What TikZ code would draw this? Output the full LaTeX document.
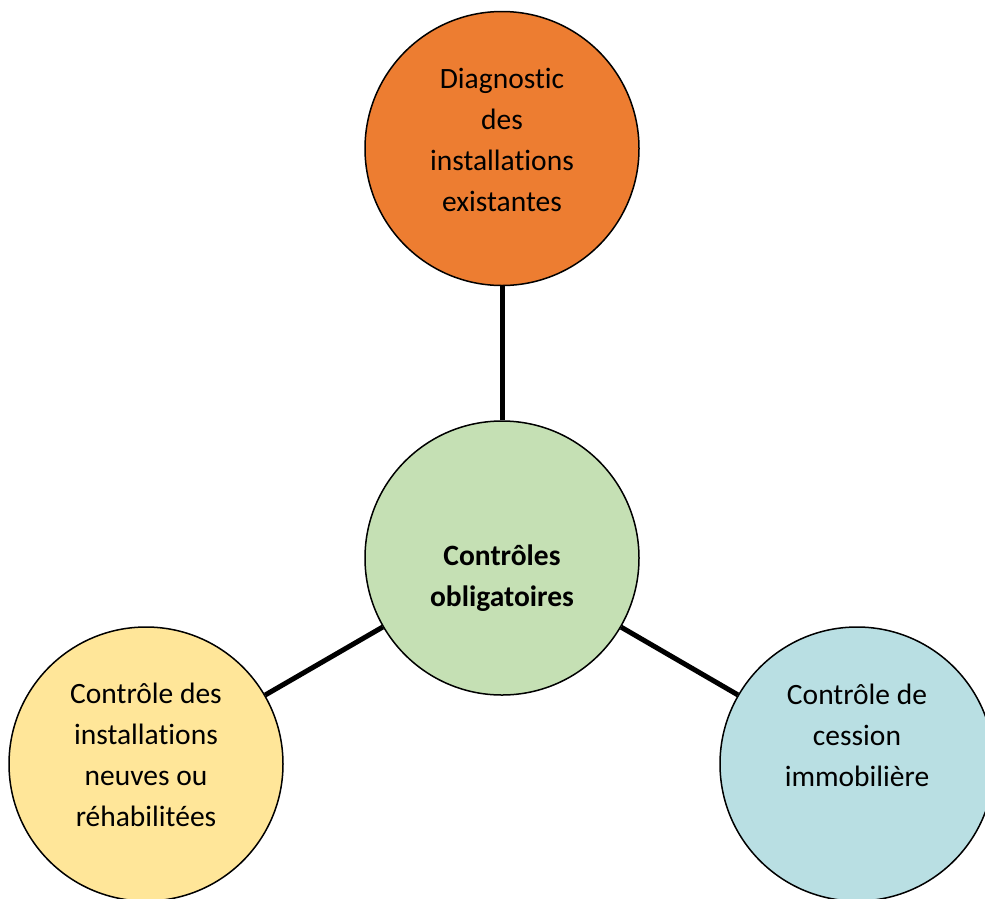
\documentclass[tikz,border=0pt]{standalone}
\usepackage{fontspec}
\setmainfont{Carlito}[Ligatures=NoCommon]
\definecolor{corange}{HTML}{ED7D31}
\definecolor{cgreen}{HTML}{C5E0B4}
\definecolor{cyellow}{HTML}{FFE699}
\definecolor{cblue}{HTML}{B9DFE3}
\begin{document}
\begin{tikzpicture}[x=1pt,y=-1pt,
  bubble/.style={circle, draw=black, line width=1.5pt, minimum size=274pt, inner sep=0pt},
  label text/.style={align=center, font=\fontsize{29.5}{41}\selectfont, inner sep=0pt},
  link/.style={line width=5pt, black}]
\useasboundingbox (0,0) rectangle (985,898);
\clip (0,0) rectangle (985,898);
\node[bubble, fill=corange] (top) at (502,148.5) {};
\node[bubble, fill=cgreen] (mid) at (502,558) {};
\node[bubble, fill=cyellow] (left) at (146,764) {};
\node[bubble, fill=cblue] (right) at (857,764) {};
\draw[link] (mid) -- (top);
\draw[link] (mid) -- (left);
\draw[link] (mid) -- (right);
\node[label text] (ttop) at (502,139.5) {Diagnostic\\des\\installations\\existantes};
\node[label text, font=\fontsize{29.5}{41}\selectfont\bfseries] (tmid) at (502,578) {Contrôles\\obligatoires};
\node[label text] (tleft) at (146,755) {Contrôle des\\installations\\neuves ou\\réhabilitées};
\node[label text] (tright) at (857,735) {Contrôle de\\cession\\immobilière};
\end{tikzpicture}
\end{document}
